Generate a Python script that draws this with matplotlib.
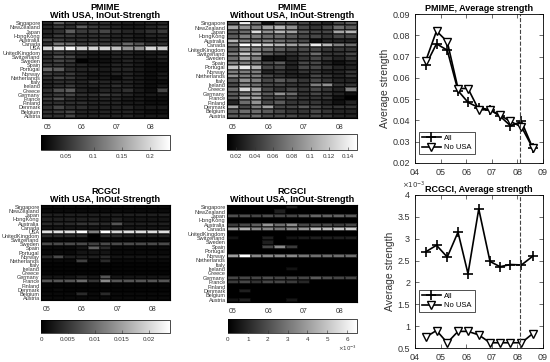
import numpy as np
import matplotlib
matplotlib.use("Agg")
import matplotlib.pyplot as plt
from matplotlib.ticker import FuncFormatter

plt.rcParams['font.family'] = ['Liberation Sans', 'DejaVu Sans']

countries_all = ["Singapore", "NewZealand", "Japan", "HongKong", "Australia", "Canada", "USA",
                 "UnitedKingdom", "Switzerland", "Sweden", "Spain", "Portugal", "Norway",
                 "Netherlands", "Italy", "Ireland", "Greece", "Germany", "France", "Finland",
                 "Denmark", "Belgium", "Austria"]
countries_nousa = [c for c in countries_all if c != "USA"]

# window positions (year - 2000) and the heatmap tick labels
windows = [4.42, 4.84, 5.26, 5.68, 6.07, 6.49, 6.93, 7.32, 7.73, 8.16, 8.6]
heat_ticks = [0, 3, 6, 9]
heat_ticklabels = ["05", "06", "07", "08"]

# PMIME, with USA
pmime_usa = [
    [0.04, 0.09, 0.06, 0.05, 0.05, 0.05, 0.04, 0.035, 0.035, 0.04, 0.04],
    [0.04, 0.06, 0.05, 0.09, 0.06, 0.05, 0.04, 0.03, 0.03, 0.04, 0.05],
    [0.04, 0.05, 0.09, 0.06, 0.06, 0.07, 0.05, 0.04, 0.04, 0.05, 0.06],
    [0.04, 0.06, 0.06, 0.05, 0.05, 0.05, 0.04, 0.04, 0.03, 0.04, 0.04],
    [0.07, 0.06, 0.05, 0.05, 0.05, 0.05, 0.04, 0.04, 0.03, 0.03, 0.04],
    [0.05, 0.11, 0.10, 0.06, 0.07, 0.06, 0.06, 0.10, 0.08, 0.05, 0.05],
    [0.20, 0.21, 0.23, 0.20, 0.20, 0.20, 0.18, 0.14, 0.14, 0.20, 0.19],
    [0.05, 0.06, 0.05, 0.04, 0.03, 0.03, 0.04, 0.04, 0.03, 0.03, 0.03],
    [0.05, 0.08, 0.07, 0.04, 0.03, 0.03, 0.04, 0.04, 0.03, 0.03, 0.04],
    [0.05, 0.07, 0.06, 0.01, 0.02, 0.02, 0.03, 0.04, 0.03, 0.02, 0.03],
    [0.06, 0.06, 0.05, 0.04, 0.03, 0.03, 0.04, 0.04, 0.03, 0.02, 0.02],
    [0.10, 0.09, 0.05, 0.04, 0.04, 0.03, 0.04, 0.04, 0.03, 0.02, 0.02],
    [0.06, 0.05, 0.06, 0.04, 0.03, 0.03, 0.04, 0.04, 0.03, 0.02, 0.03],
    [0.05, 0.07, 0.06, 0.04, 0.03, 0.03, 0.02, 0.04, 0.03, 0.02, 0.03],
    [0.04, 0.05, 0.05, 0.04, 0.05, 0.04, 0.04, 0.04, 0.03, 0.02, 0.02],
    [0.04, 0.05, 0.06, 0.04, 0.04, 0.04, 0.05, 0.04, 0.03, 0.02, 0.03],
    [0.05, 0.08, 0.09, 0.04, 0.03, 0.04, 0.04, 0.05, 0.03, 0.02, 0.07],
    [0.05, 0.06, 0.07, 0.05, 0.05, 0.06, 0.05, 0.04, 0.03, 0.03, 0.03],
    [0.06, 0.08, 0.05, 0.04, 0.04, 0.04, 0.04, 0.03, 0.03, 0.02, 0.02],
    [0.05, 0.05, 0.05, 0.05, 0.04, 0.04, 0.04, 0.03, 0.03, 0.02, 0.02],
    [0.05, 0.07, 0.05, 0.05, 0.04, 0.04, 0.04, 0.04, 0.03, 0.03, 0.03],
    [0.05, 0.06, 0.07, 0.04, 0.04, 0.04, 0.04, 0.04, 0.03, 0.02, 0.02],
    [0.05, 0.05, 0.07, 0.04, 0.04, 0.04, 0.04, 0.04, 0.03, 0.03, 0.03],
]

# PMIME, without USA
pmime_nousa = [
    [0.05, 0.14, 0.07, 0.02, 0.05, 0.05, 0.05, 0.04, 0.03, 0.05, 0.06],
    [0.10, 0.09, 0.08, 0.10, 0.11, 0.09, 0.05, 0.04, 0.05, 0.07, 0.06],
    [0.06, 0.07, 0.13, 0.09, 0.11, 0.10, 0.06, 0.05, 0.05, 0.10, 0.11],
    [0.06, 0.08, 0.08, 0.07, 0.07, 0.06, 0.05, 0.05, 0.04, 0.05, 0.05],
    [0.11, 0.08, 0.07, 0.08, 0.07, 0.06, 0.05, 0.02, 0.03, 0.03, 0.03],
    [0.08, 0.15, 0.14, 0.12, 0.11, 0.10, 0.09, 0.14, 0.11, 0.08, 0.07],
    [0.06, 0.09, 0.08, 0.07, 0.06, 0.05, 0.05, 0.05, 0.04, 0.04, 0.04],
    [0.08, 0.12, 0.10, 0.06, 0.05, 0.04, 0.05, 0.07, 0.04, 0.04, 0.05],
    [0.07, 0.10, 0.08, 0.02, 0.02, 0.03, 0.04, 0.05, 0.04, 0.03, 0.04],
    [0.08, 0.08, 0.07, 0.05, 0.06, 0.03, 0.05, 0.05, 0.03, 0.02, 0.03],
    [0.12, 0.14, 0.11, 0.05, 0.05, 0.03, 0.05, 0.05, 0.04, 0.03, 0.03],
    [0.08, 0.08, 0.08, 0.03, 0.04, 0.03, 0.04, 0.04, 0.03, 0.03, 0.04],
    [0.09, 0.08, 0.08, 0.05, 0.04, 0.03, 0.03, 0.05, 0.04, 0.03, 0.04],
    [0.06, 0.09, 0.08, 0.05, 0.06, 0.05, 0.04, 0.05, 0.04, 0.03, 0.03],
    [0.05, 0.08, 0.07, 0.05, 0.05, 0.04, 0.04, 0.08, 0.09, 0.04, 0.04],
    [0.07, 0.13, 0.10, 0.05, 0.04, 0.05, 0.04, 0.05, 0.04, 0.03, 0.08],
    [0.06, 0.07, 0.09, 0.06, 0.09, 0.07, 0.04, 0.05, 0.04, 0.03, 0.02],
    [0.06, 0.10, 0.10, 0.05, 0.05, 0.05, 0.04, 0.04, 0.04, 0.02, 0.01],
    [0.03, 0.07, 0.09, 0.05, 0.06, 0.04, 0.04, 0.04, 0.03, 0.02, 0.03],
    [0.10, 0.05, 0.08, 0.10, 0.05, 0.05, 0.06, 0.05, 0.04, 0.04, 0.04],
    [0.06, 0.07, 0.07, 0.06, 0.05, 0.04, 0.04, 0.05, 0.04, 0.03, 0.03],
    [0.06, 0.06, 0.07, 0.05, 0.05, 0.05, 0.04, 0.05, 0.04, 0.03, 0.03],
]

# RCGCI, with USA
rcgci_usa = [
    [0.001, 0.001, 0.001, 0.001, 0.001, 0.001, 0.001, 0.001, 0.001, 0.001, 0.001],
    [0.001, 0.001, 0.001, 0.001, 0.001, 0.001, 0.001, 0.001, 0.001, 0.001, 0.001],
    [0.003, 0.003, 0.003, 0.003, 0.003, 0.003, 0.003, 0.003, 0.003, 0.003, 0.003],
    [0.003, 0.003, 0.003, 0.003, 0.003, 0.002, 0.003, 0.002, 0.002, 0.002, 0.002],
    [0.004, 0.004, 0.004, 0.005, 0.005, 0.004, 0.008, 0.003, 0.003, 0.003, 0.003],
    [0.002, 0.002, 0.002, 0.002, 0.002, 0.002, 0.002, 0.002, 0.002, 0.002, 0.002],
    [0.021, 0.021, 0.021, 0.024, 0.012, 0.024, 0.020, 0.021, 0.021, 0.021, 0.021],
    [0.004, 0.004, 0.004, 0.004, 0.000, 0.004, 0.004, 0.003, 0.003, 0.003, 0.003],
    [0.001, 0.001, 0.001, 0.001, 0.000, 0.001, 0.001, 0.001, 0.001, 0.001, 0.001],
    [0.007, 0.007, 0.007, 0.007, 0.006, 0.007, 0.007, 0.007, 0.007, 0.007, 0.007],
    [0.001, 0.001, 0.001, 0.002, 0.009, 0.004, 0.001, 0.001, 0.001, 0.001, 0.001],
    [0.001, 0.001, 0.001, 0.002, 0.002, 0.002, 0.001, 0.001, 0.001, 0.001, 0.001],
    [0.004, 0.007, 0.003, 0.003, 0.003, 0.004, 0.002, 0.002, 0.002, 0.002, 0.002],
    [0.001, 0.001, 0.001, 0.006, 0.001, 0.004, 0.001, 0.001, 0.001, 0.001, 0.001],
    [0.0005, 0.0005, 0.0005, 0.0005, 0.0005, 0.0005, 0.0005, 0.0005, 0.0005, 0.0005, 0.0005],
    [0.0005, 0.0005, 0.0005, 0.0005, 0.0005, 0.0005, 0.0005, 0.0005, 0.0005, 0.0005, 0.0005],
    [0.0005, 0.0005, 0.0005, 0.0005, 0.0005, 0.0005, 0.0005, 0.0005, 0.0005, 0.0005, 0.0005],
    [0.002, 0.002, 0.002, 0.003, 0.002, 0.008, 0.002, 0.002, 0.002, 0.002, 0.002],
    [0.008, 0.008, 0.008, 0.010, 0.005, 0.013, 0.008, 0.008, 0.008, 0.008, 0.008],
    [0.0005, 0.0005, 0.0005, 0.0005, 0.0005, 0.0005, 0.0005, 0.0005, 0.0005, 0.0005, 0.0005],
    [0.0005, 0.001, 0.0005, 0.0005, 0.0005, 0.0005, 0.0005, 0.0005, 0.0005, 0.0005, 0.0005],
    [0.001, 0.001, 0.001, 0.004, 0.001, 0.004, 0.001, 0.001, 0.001, 0.001, 0.001],
    [0.001, 0.001, 0.001, 0.001, 0.001, 0.001, 0.001, 0.001, 0.001, 0.001, 0.001],
]

# RCGCI, without USA
rcgci_nousa = [
    [0, 0, 0, 0, 0, 0.0008, 0, 0, 0, 0, 0],
    [0, 0, 0, 0, 0.0008, 0, 0, 0, 0, 0, 0],
    [0.0020, 0.0020, 0.0018, 0.0020, 0.0018, 0.0018, 0.0022, 0.0026, 0.0025, 0.0025, 0.0023],
    [0, 0, 0, 0, 0, 0, 0, 0, 0, 0, 0],
    [0.0015, 0.0018, 0.0024, 0.0038, 0.0028, 0.0036, 0.0018, 0.0018, 0.0018, 0.0015, 0.0018],
    [0.0040, 0.0045, 0.0035, 0.0035, 0.0030, 0.0035, 0.0038, 0.0048, 0.0048, 0.0050, 0.0052],
    [0, 0, 0, 0, 0, 0, 0, 0, 0, 0, 0],
    [0.0005, 0, 0, 0.0008, 0, 0.0005, 0.0007, 0.0008, 0.0008, 0.0008, 0.0008],
    [0, 0, 0, 0.0008, 0, 0, 0, 0, 0, 0, 0],
    [0, 0, 0, 0.0018, 0.0035, 0.0015, 0, 0, 0, 0, 0],
    [0, 0, 0, 0, 0, 0, 0, 0, 0, 0, 0],
    [0.0040, 0.0065, 0.0035, 0.0035, 0.0035, 0.0035, 0.0030, 0.0028, 0.0028, 0.0028, 0.0028],
    [0, 0, 0, 0, 0, 0, 0, 0, 0, 0, 0],
    [0, 0, 0, 0, 0, 0, 0, 0, 0, 0, 0],
    [0, 0, 0, 0, 0, 0.0005, 0, 0, 0, 0, 0],
    [0, 0, 0, 0, 0, 0, 0, 0, 0, 0, 0],
    [0.0018, 0.0018, 0.0018, 0.0020, 0.0018, 0.0018, 0.0018, 0.0023, 0.0020, 0.0018, 0.0018],
    [0.0015, 0.0018, 0.0013, 0.0018, 0.0018, 0.0015, 0.0010, 0, 0, 0, 0],
    [0, 0, 0, 0, 0, 0, 0, 0, 0, 0, 0],
    [0, 0.0008, 0, 0, 0, 0, 0, 0, 0, 0, 0],
    [0, 0, 0, 0, 0, 0, 0, 0, 0, 0, 0],
    [0.0005, 0.0008, 0, 0, 0, 0.0006, 0, 0, 0, 0, 0],
]

# average strength series
pmime_all = [0.066, 0.076, 0.073, 0.054, 0.0485, 0.046, 0.045, 0.042, 0.0375, 0.0395, 0.027]
pmime_no_usa = [0.068, 0.082, 0.077, 0.055, 0.055, 0.045, 0.045, 0.0425, 0.0395, 0.037, 0.027]
rcgci_all = [2.7e-3, 2.85e-3, 2.58e-3, 3.15e-3, 2.2e-3, 3.68e-3, 2.48e-3, 2.36e-3, 2.41e-3, 2.4e-3, 2.6e-3]
rcgci_no_usa = [0.75e-3, 0.9e-3, 0.62e-3, 0.88e-3, 0.88e-3, 0.8e-3, 0.62e-3, 0.62e-3, 0.62e-3, 0.62e-3, 0.83e-3]
crisis = 8.09

W, H = 550, 362
TXT = "#333333"

plain = FuncFormatter(lambda v, p: "{:g}".format(round(v, 6)))
milli = FuncFormatter(lambda v, p: "{:g}".format(round(v * 1e3, 4)))


def box(x0, y0, x1, y1):
    return [x0 / W, 1 - y1 / H, (x1 - x0) / W, (y1 - y0) / H]


def heatmap(fig, pos, cpos, data, labels, vmin, vmax, title, cticks, sci=False):
    ax = fig.add_axes(box(*pos))
    data = np.array(data)
    mesh = ax.pcolormesh(data, cmap="gray", vmin=vmin, vmax=vmax,
                         edgecolors=(0, 0, 0, 0.45), linewidth=0.2)
    ax.set_xlim(0, data.shape[1])
    ax.set_ylim(data.shape[0], 0)
    ax.set_yticks(np.arange(len(labels)) + 0.5)
    ax.set_yticklabels(labels, fontsize=4.0, color=TXT)
    ax.set_xticks(np.array(heat_ticks) + 0.5)
    ax.set_xticklabels(heat_ticklabels, fontsize=5, color=TXT)
    ax.tick_params(length=0, pad=1)
    ax.tick_params(axis="x", pad=4)
    cx = (pos[0] + pos[2]) / 2 / W
    top = 1 - pos[1] / H
    name, sub = title.split("\n")
    fig.text(cx, top + 13.5 / H, name, ha="center", va="center", fontsize=6.5,
             fontweight="bold")
    fig.text(cx, top + 5 / H, sub, ha="center", va="center", fontsize=6.5,
             fontweight="bold")
    cax = fig.add_axes(box(*cpos))
    cb = fig.colorbar(mesh, cax=cax, orientation="horizontal")
    cb.set_ticks(cticks)
    cb.formatter = milli if sci else plain
    cb.update_ticks()
    cax.tick_params(direction="in", length=2, width=0.4, labelsize=4.5,
                    colors=TXT, pad=3)
    cb.outline.set_linewidth(0.5)
    if sci:
        fig.text(cpos[2] / W, 1 - (cpos[3] + 15) / H, r"$\times10^{-3}$",
                 ha="right", va="center", fontsize=4, color=TXT)
    return ax


def lineplot(fig, pos, yall, ynousa, ylim, yticks, title, legend_anchor, sci=False):
    ax = fig.add_axes(box(*pos))
    ax.plot(windows, yall, color="k", lw=1.2, marker="+", ms=7, mew=1.2, label="All")
    ax.plot(windows, ynousa, color="k", lw=1.2, marker="v", ms=5.5, mfc="white",
            mew=1.0, label="No USA")
    ax.axvline(crisis, color="#444444", ls="--", lw=0.8)
    ax.set_xlim(4, 9)
    ax.set_xticks([4, 5, 6, 7, 8, 9])
    ax.set_xticklabels(["04", "05", "06", "07", "08", "09"])
    ax.set_ylim(*ylim)
    ax.set_yticks(yticks)
    ax.yaxis.set_major_formatter(milli if sci else plain)
    if sci:
        ax.text(-0.01, 1.025, r"$\times10^{-3}$", transform=ax.transAxes, ha="center",
                va="bottom", fontsize=5.0, color=TXT)
    ax.tick_params(direction="in", length=3, width=0.5, labelsize=6.5,
                   colors=TXT, top=True, right=True)
    for s in ax.spines.values():
        s.set_linewidth(0.6)
    ax.set_ylabel("Average strength", fontsize=7.5, color=TXT, labelpad=2)
    ax.set_title(title, fontsize=6.5, fontweight="bold", pad=2, y=1.0)
    leg = ax.legend(loc="lower left", bbox_to_anchor=legend_anchor, fontsize=5.5,
                    frameon=True, fancybox=False, edgecolor="k", handlelength=2.6,
                    borderpad=0.35, labelspacing=0.3, handletextpad=0.4,
                    borderaxespad=0)
    leg.get_frame().set_linewidth(0.6)
    return ax


fig = plt.figure(figsize=(5.5, 3.62), dpi=100)

heatmap(fig, (42, 21, 168, 118), (41, 135, 170, 150), pmime_usa, countries_all,
        0.0065, 0.236, "PMIME\nWith USA, InOut-Strength", [0.05, 0.1, 0.15, 0.2])
heatmap(fig, (227, 21, 357, 118), (227, 134, 357, 150), pmime_nousa, countries_nousa,
        0.0102, 0.15, "PMIME\nWithout USA, InOut-Strength",
        [0.02, 0.04, 0.06, 0.08, 0.1, 0.12, 0.14])
heatmap(fig, (41, 205, 170, 300), (41, 320, 170, 333), rcgci_usa, countries_all,
        0, 0.024, "RCGCI\nWith USA, InOut-Strength", [0, 0.005, 0.01, 0.015, 0.02])
heatmap(fig, (227, 205, 357, 302), (228, 319, 357, 333), rcgci_nousa, countries_nousa,
        0, 0.0065, "RCGCI\nWithout USA, InOut-Strength",
        [0, 0.001, 0.002, 0.003, 0.004, 0.005, 0.006], sci=True)

lineplot(fig, (415, 14, 543, 163), pmime_all, pmime_no_usa, (0.02, 0.09),
         [0.02, 0.03, 0.04, 0.05, 0.06, 0.07, 0.08, 0.09],
         "PMIME, Average strength", (0.03, 0.06))
lineplot(fig, (415, 195, 543, 348), rcgci_all, rcgci_no_usa, (0.5e-3, 4e-3),
         [0.5e-3, 1e-3, 1.5e-3, 2e-3, 2.5e-3, 3e-3, 3.5e-3, 4e-3],
         "RCGCI, Average strength", (0.03, 0.235), sci=True)

fig.savefig("out.png", dpi=100)
